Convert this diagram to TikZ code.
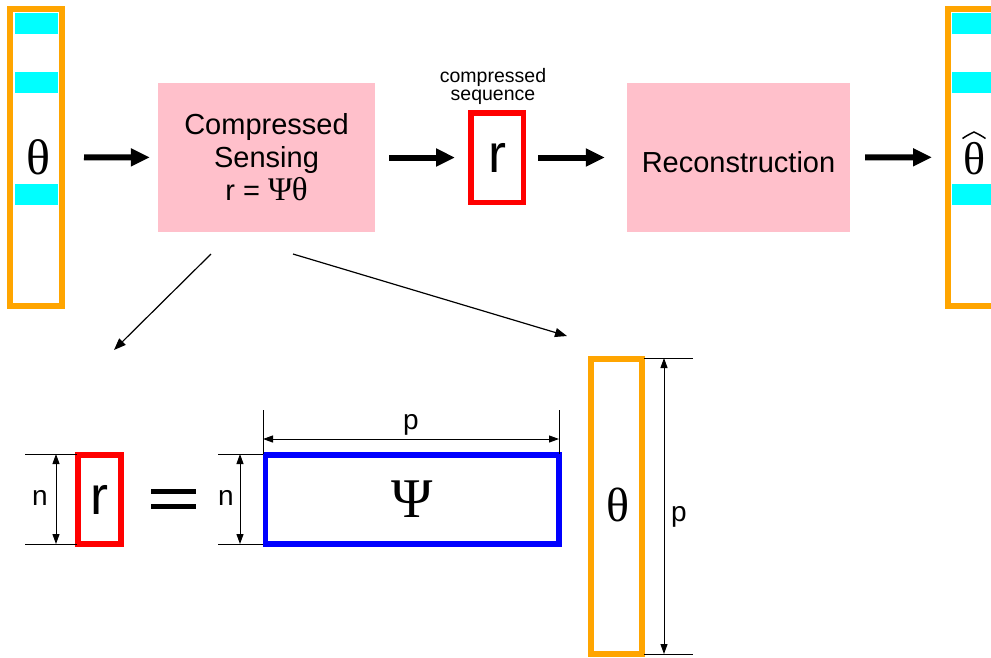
\documentclass[tikz,border=0pt]{standalone}
\usepackage{fontspec}
\setmainfont{Liberation Sans}
\newfontfamily\serif{Liberation Serif}
\usetikzlibrary{arrows.meta}
\definecolor{vorange}{HTML}{FFA500}
\definecolor{vcyan}{HTML}{00FFFF}
\definecolor{vpink}{HTML}{FFC0CB}
\begin{document}
\begin{tikzpicture}[x=1pt,y=-1pt,
  vecbox/.style={draw=vorange,line width=6pt,inner sep=0pt,minimum width=52pt},
  bar/.style={fill=vcyan,draw=none},
  procbox/.style={fill=vpink,draw=none,inner sep=0pt,minimum height=149pt,align=center,
    font=\fontsize{29}{33}\selectfont},
  rbox/.style={draw=red,line width=5.5pt,inner sep=0pt,font=\fontsize{54}{54}\selectfont},
  bigarrow/.style={line width=6pt,-{Triangle[length=19pt,width=17pt]}},
  thinarrow/.style={line width=1.2pt,-{Triangle[length=12pt,width=9pt]}},
  dimarrow/.style={line width=1pt,{Triangle[length=10pt,width=7pt]}-{Triangle[length=10pt,width=7pt]}},
  dimline/.style={line width=1pt},
  greek/.style={font=\serif\fontsize{50}{50}\selectfont},
  lbl/.style={font=\fontsize{28}{28}\selectfont,inner sep=0pt}]
\useasboundingbox (0,0) rectangle (991,657);
\begin{scope}
\clip (0,0) rectangle (991,657);
% left theta vector
\fill[vcyan] (15,13) rectangle (58,34);
\fill[vcyan] (15,72) rectangle (58,93);
\fill[vcyan] (15,184) rectangle (58,205);
\node[vecbox,minimum height=296.5pt] (thetaL) at (36,157.25) {};
\node[greek] (thetaLt) at (38,157) {θ};
% right theta-hat vector
\fill[vcyan] (952,13) rectangle (1000,34);
\fill[vcyan] (952,72) rectangle (1000,93);
\fill[vcyan] (952,184) rectangle (1000,205);
\node[vecbox,minimum height=296.5pt] (thetaR) at (974,157.25) {};
\node[greek,font=\serif\fontsize{46}{46}\selectfont] (thetaRt) at (975,159) {θ};
\draw[line width=1.5pt] (962.5,138.5) .. controls (967,135.5) .. (974,132) .. controls (981,135.5) .. (985.5,138.5);
\end{scope}
% process boxes
\node[procbox,minimum width=217pt] (cs) at (266.5,157.5) {Compressed\\Sensing\\r = {\serif\fontsize{33}{33}\selectfont Ψθ}};
\node[procbox,minimum width=223pt] (rec) at (738.5,157.5) {\raisebox{-4.5pt}[\height][\depth]{Reconstruction}};
% compressed sequence r
\node[rbox,minimum width=52.5pt,minimum height=89.5pt] (rtop) at (497,157.5) {r};
\node[font=\fontsize{19.5}{18}\selectfont,align=center,inner sep=0pt] (cslbl) at (493,86.5) {compressed\\sequence};
% big arrows
\draw[bigarrow,shorten <=19pt,shorten >=8pt] (thetaL) -- (cs);
\draw[bigarrow,shorten <=14pt,shorten >=13pt] (cs) -- (rtop);
\draw[bigarrow,shorten <=12pt,shorten >=22pt] (rtop) -- (rec);
\draw[bigarrow,shorten <=15pt,shorten >=13pt] (rec) -- (thetaR);
% diagonal arrows
\coordinate (d1s) at (211,254);
\coordinate (d1e) at (114,350);
\coordinate (d2s) at (293,254);
\coordinate (d2e) at (567,336);
\draw[thinarrow] (d1s) -- (d1e);
\draw[thinarrow] (d2s) -- (d2e);
% bottom equation
\node[rbox,minimum width=43pt,minimum height=89pt] (rbot) at (99.5,499.5) {r};
\draw[line width=5pt] (151,491.5) -- (196,491.5);
\draw[line width=5pt] (151,506.5) -- (196,506.5);
\node[draw=blue,line width=5.5pt,inner sep=0pt,minimum width=293.5pt,minimum height=89pt,
  font=\serif\fontsize{56}{56}\selectfont] (psi) at (412.25,499.5) {Ψ};
\node[vecbox,minimum width=51pt,minimum height=295.5pt] (thetaB) at (616,506.25) {};
\node[greek,font=\serif\fontsize{48}{48}\selectfont] (thetaBt) at (618,505) {θ};
% dimension n (r)
\coordinate (n1a) at (25,454);
\coordinate (n1b) at (77,454);
\coordinate (n1c) at (25,544);
\coordinate (n1d) at (77,544);
\draw[dimline] (n1a) -- (n1b);
\draw[dimline] (n1c) -- (n1d);
\coordinate (n1t) at (56,454);
\coordinate (n1u) at (56,544);
\draw[dimarrow] (n1t) -- (n1u);
\node[lbl] (n1) at (40,498) {n};
% dimension n (Psi)
\coordinate (n2a) at (218,454);
\coordinate (n2b) at (263,454);
\coordinate (n2c) at (218,544);
\coordinate (n2d) at (263,544);
\draw[dimline] (n2a) -- (n2b);
\draw[dimline] (n2c) -- (n2d);
\coordinate (n2t) at (240,454);
\coordinate (n2u) at (240,544);
\draw[dimarrow] (n2t) -- (n2u);
\node[lbl] (n2) at (226,498) {n};
% dimension p (Psi)
\coordinate (p1a) at (263,410);
\coordinate (p1b) at (263,454);
\coordinate (p1c) at (559,410);
\coordinate (p1d) at (559,454);
\draw[dimline] (p1a) -- (p1b);
\draw[dimline] (p1c) -- (p1d);
\coordinate (p1t) at (263,439);
\coordinate (p1u) at (559,439);
\draw[dimarrow] (p1t) -- (p1u);
\node[lbl] (p1) at (411,425) {p};
% dimension p (theta)
\coordinate (p2a) at (644,358);
\coordinate (p2b) at (693,358);
\coordinate (p2c) at (644,654);
\coordinate (p2d) at (693,654);
\draw[dimline] (p2a) -- (p2b);
\draw[dimline] (p2c) -- (p2d);
\coordinate (p2t) at (664,358);
\coordinate (p2u) at (664,654);
\draw[dimarrow] (p2t) -- (p2u);
\node[lbl] (p2) at (679,517) {p};
\end{tikzpicture}
\end{document}
